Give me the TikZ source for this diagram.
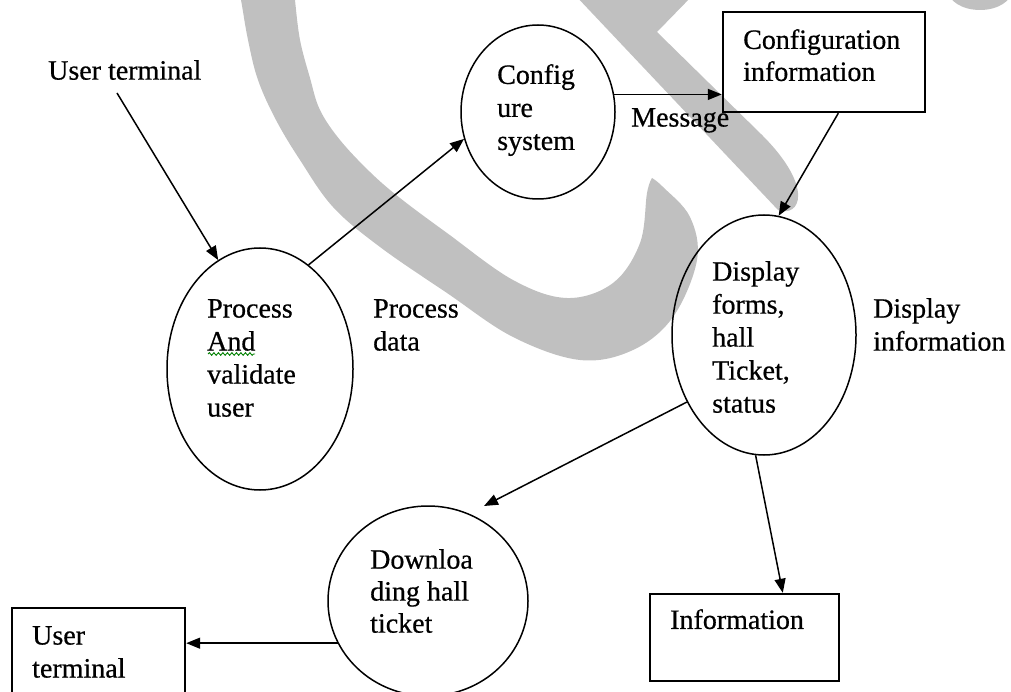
\documentclass[tikz,border=0pt]{standalone}
\usepackage{fontspec}
\setmainfont{Liberation Serif}[FakeBold=0.6]
\usetikzlibrary{arrows.meta,shapes.geometric,calc,decorations.pathmorphing}
\definecolor{wmgray}{RGB}{192,192,192}
\definecolor{squiggle}{RGB}{0,128,0}
\tikzset{
  procbubble/.style={draw=black, ellipse, line width=1.5pt, inner sep=0pt},
  storebox/.style={draw=black, rectangle, line width=2.4pt, inner sep=0pt},
  lbl/.style={anchor=north west, align=left, inner sep=0pt, font=\fontsize{28}{33}\selectfont},
  flow/.style={line width=1.5pt, -{Triangle[length=14pt,width=11pt]}},
}
\begin{document}
\begin{tikzpicture}[x=1pt,y=-1pt]
\useasboundingbox (0,0) rectangle (1011,692);
\clip (0,0) rectangle (1011,692);

% background logo strokes
\fill[wmgray] plot[smooth, tension=0.6] coordinates {(239,-5) (241,0) (248,40) (258,80) (276,120) (300,160) (333,207) (380,247) (447,293) (513,337) (580,360) (633,350) (673,317) (697,260) (690,217) (663,187) (652,178)}
  -- plot[smooth, tension=0.6] coordinates {(652,178) (647,193) (640,243) (613,283) (567,298) (513,280) (447,233) (400,198) (370,172) (340,140) (320,110) (310,78) (300,40) (295,0) (295,-5)} -- cycle;
\fill[wmgray] (574,-6) -- (694,-6) -- (657,32) -- (762,135) .. controls (815,188) and (800,218) .. (778,210) -- cycle;
\fill[wmgray] (980,-10) ellipse [x radius=32pt, y radius=20pt];

% processes
\node[procbubble, minimum width=186pt, minimum height=242pt] (proc) at (260,369) {};
\node[procbubble, minimum width=154pt, minimum height=174pt] (cfg) at (538,112) {};
\node[procbubble, minimum width=184pt, minimum height=240pt] (disp) at (764,335) {};
\node[procbubble, minimum width=200pt, minimum height=190pt] (down) at (428,601) {};

% stores / terminals
\node[storebox, minimum width=202pt, minimum height=100pt] (cfgbox) at (824,62) {};
\node[storebox, minimum width=189pt, minimum height=87pt] (infobox) at (744.5,637.5) {};
\node[storebox, minimum width=173pt, minimum height=112pt] (utbox) at (98.5,664) {};

% texts
\node[lbl] (tUT) at (48,60) {User terminal};
\node[lbl] (tProc) at (207,299) {Process\\And\\validate\\user};
\node[lbl] (tPD) at (373,299) {Process\\data};
\node[lbl] (tCfg) at (497,64) {Config\\ure\\system};
\node[lbl] (tMsg) at (631,108) {Message};
\node[lbl, font=\fontsize{28}{32}\selectfont] (tCI) at (743,29) {Configuration\\information};
\node[lbl] (tDisp) at (712,261) {Display\\forms,\\hall\\Ticket,\\status};
\node[lbl] (tDI) at (873,298) {Display\\information};
\node[lbl, font=\fontsize{28}{32}\selectfont] (tDown) at (370,549) {Downloa\\ding hall\\ticket};
\node[lbl] (tUT2) at (32,626) {User\\terminal};
\node[lbl] (tInfo) at (670,609) {Information};

% spelling mark under "And"
\draw[squiggle, line width=0.9pt, decorate, decoration={snake, amplitude=1.3pt, segment length=4.5pt}] (208,354) -- (255,354);

% data flows
\coordinate (utsrc) at (117,93);
\coordinate (dlend) at (484,506);
\draw[flow] (utsrc) -- (proc.111);
\draw[flow] (proc.65) -- (cfg.200);
\draw[flow] (cfg.13) -- (cfg.13 -| cfgbox.west);
\draw[flow] ($(cfgbox.south west)!0.57!(cfgbox.south east)$) -- (disp.83);
\draw[flow] (disp.221) -- (dlend);
\draw[flow] (down.205) -- (down.205 -| utbox.east);
\draw[flow] (disp.266) -- ($(infobox.north west)!0.7!(infobox.north east)$);
\end{tikzpicture}
\end{document}
